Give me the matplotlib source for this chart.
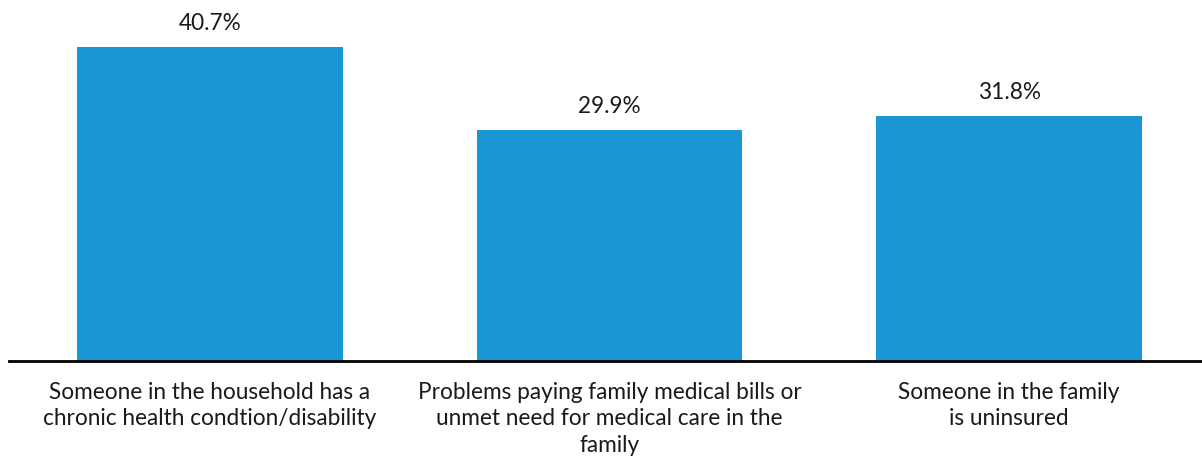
import matplotlib.pyplot as plt
import numpy as np

plt.rcParams['font.family'] = ['Lato', 'DejaVu Sans']

categories = [
    'Someone in the household has a\nchronic health condtion/disability',
    'Problems paying family medical bills or\nunmet need for medical care in the\nfamily',
    'Someone in the family\nis uninsured',
]
values = [40.7, 29.9, 31.8]

fig = plt.figure(figsize=(12.02, 4.57), dpi=100)
ax = fig.add_axes([9 / 1202, (457 - 361) / 457, 1 - 9 / 1202, 361 / 457])

x = np.arange(len(values))
bars = ax.bar(x, values, width=0.665, color='#1a96d4')

for xi, v in zip(x, values):
    ax.text(xi, v + 1.7, f'{v:.1f}%', ha='center', va='bottom',
            fontsize=16.3, color='#1a1a1a')

ax.set_xlim(-0.5025, 2.4825)
ax.set_ylim(0, 46.8)
ax.set_xticks(x)
ax.set_xticklabels(categories, fontsize=16.3, color='#1a1a1a', linespacing=1.33)
ax.tick_params(axis='x', length=0, pad=15)
ax.set_yticks([])
for side in ['top', 'right', 'left']:
    ax.spines[side].set_visible(False)
ax.spines['bottom'].set_linewidth(2)
ax.spines['bottom'].set_color('black')

fig.savefig('out.png', dpi=100)
